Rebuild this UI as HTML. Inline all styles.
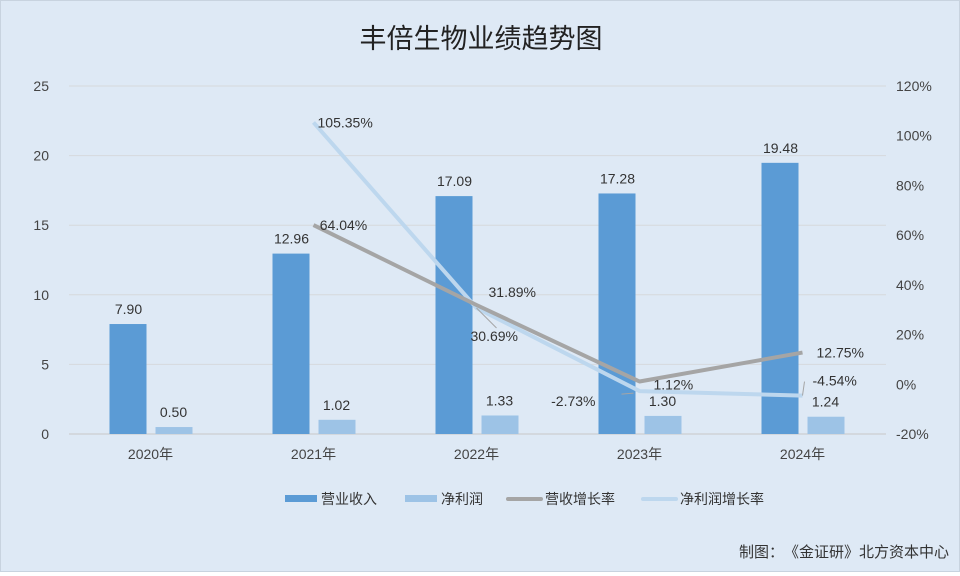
<!DOCTYPE html>
<html><head><meta charset="utf-8"><style>
body{margin:0;background:#fff}
#wrap{width:958px;height:570px;border:1px solid #c8d3df;background:#dee9f5;position:relative;font-family:"Liberation Sans","Noto Sans CJK SC",sans-serif}
svg text{font-family:"Liberation Sans","Noto Sans CJK SC",sans-serif}
</style></head><body>
<div id="wrap">
<svg id="chart" width="958" height="570">
<text x="480" y="47" text-anchor="middle" font-size="27" fill="#222">丰倍生物业绩趋势图</text>
<g id="grid"></g><g id="bars"></g><g id="lines"></g><g id="labels"></g>
<g>
<rect x="284" y="494" width="32" height="7" fill="#5b9bd5"/>
<text x="320" y="503" font-size="14" fill="#333">营业收入</text>
<rect x="404" y="494" width="32" height="7" fill="#9dc3e6"/>
<text x="440" y="503" font-size="14" fill="#333">净利润</text>
<line x1="507" y1="498" x2="540" y2="498" stroke="#a5a5a5" stroke-width="4" stroke-linecap="round"/>
<text x="544" y="503" font-size="14" fill="#333">营收增长率</text>
<line x1="642" y1="498" x2="675" y2="498" stroke="#bdd7ee" stroke-width="4" stroke-linecap="round"/>
<text x="679" y="503" font-size="14" fill="#333">净利润增长率</text>
</g>
<text x="948" y="556" text-anchor="end" font-size="15" fill="#333">制图：　《金证研》北方资本中心</text>
</svg></div>
<script>
const categories=["2020年","2021年","2022年","2023年","2024年"];
const revenue=[7.90,12.96,17.09,17.28,19.48];
const profit=[0.50,1.02,1.33,1.30,1.24];
const revGrowth=[null,64.04,31.89,1.12,12.75];
const profitGrowth=[null,105.35,30.69,-2.73,-4.54];
const leftTicks=[0,5,10,15,20,25];
const rightTicks=[-20,0,20,40,60,80,100,120];
const NS="http://www.w3.org/2000/svg";
const X0=68,BAND=163,Y0=433,YT=85;
const xc=i=>X0+BAND*(i+0.5);
const yl=v=>Y0-(v/25)*(Y0-YT);
const yr=v=>Y0-((v+20)/140)*(Y0-YT);
function mk(tag,attrs,parent){const e=document.createElementNS(NS,tag);for(const k in attrs)e.setAttribute(k,attrs[k]);parent.appendChild(e);return e;}
const grid=document.getElementById('grid'),bars=document.getElementById('bars'),lines=document.getElementById('lines'),labels=document.getElementById('labels');
leftTicks.forEach(t=>{
 const l=mk('line',{x1:X0,x2:885,y1:yl(t),y2:yl(t),stroke:t===0?'#c8c8c8':'#d6d9dc','stroke-width':1},grid);
 
 
 const tx=mk('text',{x:48,y:yl(t)+5,'text-anchor':'end','font-size':14,fill:'#444'},grid);tx.textContent=t;
 
 
});
rightTicks.forEach(t=>{
 const tx=mk('text',{x:895,y:yr(t)+5,'font-size':14,fill:'#444'},grid);tx.textContent=t+'%';
 
 
});
categories.forEach((c,i)=>{
 const tx=mk('text',{x:xc(i),y:458,'text-anchor':'middle','font-size':14,fill:'#444'},grid);tx.textContent=c;
 
 
 const b1=mk('rect',{x:xc(i)-41,y:yl(revenue[i]),width:37,height:Y0-yl(revenue[i]),fill:'#5b9bd5'},bars);
 
 
 const b2=mk('rect',{x:xc(i)+5,y:yl(profit[i]),width:37,height:Y0-yl(profit[i]),fill:'#9dc3e6'},bars);
 
 
 const t1=mk('text',{x:xc(i)-22,y:yl(revenue[i])-10,'text-anchor':'middle','font-size':14,fill:'#333'},labels);t1.textContent=revenue[i].toFixed(2);
 
 
 const t2=mk('text',{x:xc(i)+23,y:yl(profit[i])-10,'text-anchor':'middle','font-size':14,fill:'#333'},labels);t2.textContent=profit[i].toFixed(2);
 
 
});
function pts(arr){return arr.map((v,i)=>v===null?null:[xc(i),yr(v)]).filter(p=>p);}
const p2=pts(profitGrowth),p1=pts(revGrowth);
const l2=mk('polyline',{points:p2.map(p=>p.join(',')).join(' '),fill:'none',stroke:'#bdd7ee','stroke-width':4,'stroke-linejoin':'round'},lines);


const l1=mk('polyline',{points:p1.map(p=>p.join(',')).join(' '),fill:'none',stroke:'#a5a5a5','stroke-width':4,'stroke-linejoin':'round'},lines);


const revOff=[null,[30,5],[12,-8],[14,8],[14,5]];
const proOff=[null,[4,5],[-6,33],[-44,15],[10,-10]];
revGrowth.forEach((v,i)=>{if(v===null)return;
 const t=mk('text',{x:xc(i)+revOff[i][0],y:yr(v)+revOff[i][1],'font-size':14,fill:'#333'},labels);t.textContent=v.toFixed(2)+'%';
 if(i===1)t.setAttribute('text-anchor','middle');
 
 
});
profitGrowth.forEach((v,i)=>{if(v===null)return;
 const t=mk('text',{x:xc(i)+proOff[i][0],y:yr(v)+proOff[i][1],'font-size':14,fill:'#333'},labels);t.textContent=v.toFixed(2)+'%';
 if(i===3)t.setAttribute('text-anchor','end');
 
 
});
const leaders=[[xc(2),yr(profitGrowth[2]),xc(2)+20,yr(profitGrowth[2])+20],[xc(3)-6,yr(profitGrowth[3])+2,xc(3)-18,yr(profitGrowth[3])+3],[xc(4),yr(profitGrowth[4]),xc(4)+2,yr(profitGrowth[4])-14]];
leaders.forEach(a=>{const l=mk('line',{x1:a[0],y1:a[1],x2:a[2],y2:a[3],stroke:'#a5a5a5','stroke-width':1},labels);
 
 });
</script>
</body></html>
